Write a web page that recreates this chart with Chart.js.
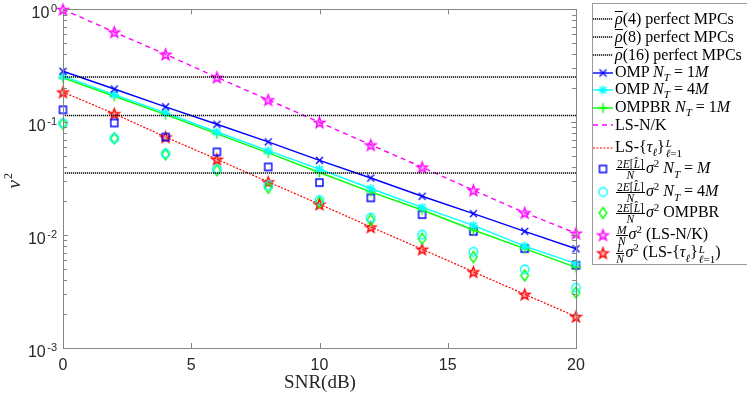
<!DOCTYPE html>
<html>
<head>
<meta charset="utf-8">
<script src="https://cdn.jsdelivr.net/npm/chart.js@4/dist/chart.umd.min.js"></script>
<style>
  html, body { margin: 0; padding: 0; background: #fff; overflow: hidden; }
  #wrap { position: relative; width: 747px; height: 394px; }
  #chart { position: absolute; left: 0; top: 0; }
  #legend {
    position: absolute; left: 592px; top: 3px; width: 170px; height: 260px;
    border: 1px solid #9a9a9a; background: #fff;
    font-family: "Liberation Serif", "DejaVu Serif", serif; font-size: 16px; color: #000;
  }
  .row { position: absolute; left: 0; display: flex; align-items: center; white-space: nowrap; }
  .row canvas { display: block; margin-right: 1px; }
  .bar { display: inline-block; border-top: 1px solid #000; line-height: 11px; padding-top: 1px; }
  .frac { display: inline-flex; flex-direction: column; align-items: center; font-size: 11.5px;
          line-height: 10.5px; vertical-align: middle; margin: 0 1px; }
  .frac .num { border-bottom: 1px solid #000; padding: 0 1px; }
  .ss { display: inline-flex; flex-direction: column; font-size: 11px; line-height: 10px;
        vertical-align: middle; margin-left: 1px; }
  sub { font-size: 11px; }
  sup { font-size: 11px; }
</style>
</head>
<body>
<div id="wrap">
  <canvas id="chart" width="747" height="394"></canvas>
  <div id="legend"></div>
</div>
<script>
// SNR (dB) on the x axis
const snr = [0, 2, 4, 6, 8, 10, 12, 14, 16, 18, 20];

// horizontal reference levels rho(4), rho(8), rho(16)
const rhoLevels = [0.252, 0.115, 0.0356];

const omp1M   = [0.283, 0.197, 0.137, 0.096, 0.067, 0.046, 0.0321, 0.0221, 0.0155, 0.0108, 0.00757];
const omp4M   = [0.256, 0.176, 0.121, 0.082, 0.056, 0.0384, 0.0259, 0.0176, 0.0122, 0.0080, 0.0056];
const ompbr1M = [0.247, 0.170, 0.117, 0.079, 0.0535, 0.0359, 0.0242, 0.0167, 0.0111, 0.0076, 0.00518];
const lsNK    = [1.0, 0.63, 0.40, 0.25, 0.158, 0.100, 0.063, 0.040, 0.025, 0.0158, 0.0104];
const lsTau   = [0.185, 0.119, 0.074, 0.047, 0.0296, 0.0188, 0.0118, 0.0075, 0.00473, 0.00299, 0.0019];
const boundM  = [0.129, 0.0986, 0.074, 0.0546, 0.0402, 0.0292, 0.0214, 0.0152, 0.0108, 0.0076, 0.0054];
const bound4M = [0.098, 0.072, 0.0528, 0.0384, 0.0277, 0.0204, 0.0143, 0.0101, 0.0071, 0.00497, 0.00342];
const boundBR = [0.097, 0.072, 0.052, 0.0376, 0.0263, 0.0196, 0.0136, 0.0093, 0.0064, 0.0044, 0.0031];

// axis ticks
const xTicks = [0, 5, 10, 15, 20];
const yExponents = [-3, -2, -1, 0];

// legend labels (html for math)
const legendLabels = [
  '<i class="bar">ρ</i>(4) perfect MPCs',
  '<i class="bar">ρ</i>(8) perfect MPCs',
  '<i class="bar">ρ</i>(16) perfect MPCs',
  'OMP <i>N</i><sub><i>T</i></sub> = 1<i>M</i>',
  'OMP <i>N</i><sub><i>T</i></sub> = 4<i>M</i>',
  'OMPBR <i>N</i><sub><i>T</i></sub> = 1<i>M</i>',
  'LS-N/K',
  'LS-{<i>τ</i><sub><i>ℓ</i></sub>}<span class="ss"><i>L</i><span><i>ℓ</i>=1</span></span>',
  '<span class="frac"><span class="num">2<i>E</i>[<i>L̂</i>]</span><span><i>N</i></span></span><i>σ</i><sup>2</sup> <i>N</i><sub><i>T</i></sub> = <i>M</i>',
  '<span class="frac"><span class="num">2<i>E</i>[<i>L̂</i>]</span><span><i>N</i></span></span><i>σ</i><sup>2</sup> <i>N</i><sub><i>T</i></sub> = 4<i>M</i>',
  '<span class="frac"><span class="num">2<i>E</i>[<i>L̂</i>]</span><span><i>N</i></span></span><i>σ</i><sup>2</sup> OMPBR',
  '<span class="frac"><span class="num"><i>M</i></span><span><i>N</i></span></span><i>σ</i><sup>2</sup> (LS-N/K)',
  '<span class="frac"><span class="num"><i>L</i></span><span><i>N</i></span></span><i>σ</i><sup>2</sup> (LS-{<i>τ</i><sub><i>ℓ</i></sub>}<span class="ss"><i>L</i><span><i>ℓ</i>=1</span></span>)'
];
const legendY = [19, 37, 55, 73, 90, 108, 125, 148, 169, 192, 213, 235, 253];

// marker images (MATLAB-like shapes)
function makeMarker(shape, color) {
  const s = 17, c = s / 2;
  const cv = document.createElement('canvas');
  cv.width = s; cv.height = s;
  const g = cv.getContext('2d');
  g.strokeStyle = color;
  g.lineWidth = 1.4;
  g.beginPath();
  if (shape === 'x') {
    g.moveTo(c - 3.5, c - 3.5); g.lineTo(c + 3.5, c + 3.5);
    g.moveTo(c + 3.5, c - 3.5); g.lineTo(c - 3.5, c + 3.5);
  } else if (shape === '+') {
    g.moveTo(c - 5, c); g.lineTo(c + 5, c);
    g.moveTo(c, c - 5); g.lineTo(c, c + 5);
  } else if (shape === '*') {
    g.moveTo(c - 4.5, c); g.lineTo(c + 4.5, c);
    g.moveTo(c, c - 4.5); g.lineTo(c, c + 4.5);
    g.moveTo(c - 3.3, c - 3.3); g.lineTo(c + 3.3, c + 3.3);
    g.moveTo(c + 3.3, c - 3.3); g.lineTo(c - 3.3, c + 3.3);
  } else if (shape === 'square') {
    g.rect(c - 3.5, c - 3.5, 7, 7);
  } else if (shape === 'circle') {
    g.arc(c, c, 4.2, 0, Math.PI * 2);
  } else if (shape === 'diamond') {
    g.moveTo(c, c - 5.5); g.lineTo(c + 3.8, c); g.lineTo(c, c + 5.5); g.lineTo(c - 3.8, c); g.closePath();
  } else if (shape === 'pentagram') {
    for (let i = 0; i < 10; i++) {
      const r = i % 2 ? 2.3 : 5.6;
      const a = -Math.PI / 2 + i * Math.PI / 5;
      const px = c + r * Math.cos(a), py = c + 0.5 + r * Math.sin(a);
      if (i === 0) g.moveTo(px, py); else g.lineTo(px, py);
    }
    g.closePath();
    g.fillStyle = color;
    g.globalAlpha = 0.3; g.fill(); g.globalAlpha = 1;
  }
  g.stroke();
  return cv;
}

const pts = (ys) => snr.map((x, i) => ({ x: x, y: ys[i] }));
const hline = (v) => [{ x: 0, y: v }, { x: 20, y: v }];

function lineSet(label, data, color, opts) {
  return Object.assign({
    label: label, data: data, borderColor: color, backgroundColor: color,
    borderWidth: 1.4, pointRadius: 0, fill: false, tension: 0, clip: false
  }, opts || {});
}
function markSet(label, data, shape, color) {
  return {
    label: label, data: data, showLine: false, clip: false,
    pointStyle: makeMarker(shape, color), pointRadius: 8, pointHoverRadius: 8,
    borderColor: color, backgroundColor: color
  };
}

const datasets = [
  lineSet('rho4', hline(rhoLevels[0]), '#000', { borderDash: [1.2, 0.8], borderWidth: 1.5 }),
  lineSet('rho8', hline(rhoLevels[1]), '#000', { borderDash: [1.2, 0.8], borderWidth: 1.5 }),
  lineSet('rho16', hline(rhoLevels[2]), '#000', { borderDash: [1.2, 0.8], borderWidth: 1.5 }),
  lineSet('OMP 1M', pts(omp1M), '#0000ff', { pointStyle: makeMarker('x', '#0000ff'), pointRadius: 8 }),
  lineSet('OMP 4M', pts(omp4M), '#00ffff', { pointStyle: makeMarker('*', '#00ffff'), pointRadius: 8 }),
  lineSet('OMPBR 1M', pts(ompbr1M), '#00ff00', { pointStyle: makeMarker('+', '#00ff00'), pointRadius: 8 }),
  lineSet('LS-N/K', pts(lsNK), '#ff00ff', { borderDash: [5, 4] }),
  lineSet('LS-tau', pts(lsTau), '#ff0000', { borderDash: [2, 1.5], borderWidth: 1.2 }),
  markSet('bound M', pts(boundM), 'square', '#0000ff'),
  markSet('bound 4M', pts(bound4M), 'circle', '#00ffff'),
  markSet('bound OMPBR', pts(boundBR), 'diamond', '#00ff00'),
  markSet('M/N', pts(lsNK), 'pentagram', '#ff00ff'),
  markSet('L/N', pts(lsTau), 'pentagram', '#ff0000')
];

// frame, inward ticks and axis texts, MATLAB style
const axesPlugin = {
  id: 'matlabAxes',
  afterDatasetsDraw(chart) {
    const ctx = chart.ctx;
    const a = chart.chartArea;
    const xs = chart.scales.x, ys = chart.scales.y;
    ctx.save();
    ctx.strokeStyle = '#858585';
    ctx.lineWidth = 1;
    ctx.strokeRect(Math.round(a.left) + 0.5, Math.round(a.top) + 0.5,
      Math.round(a.right - a.left), Math.round(a.bottom - a.top));
    ctx.beginPath();
    xTicks.forEach(v => {
      const px = Math.round(xs.getPixelForValue(v)) + 0.5;
      ctx.moveTo(px, a.bottom); ctx.lineTo(px, a.bottom - 5);
      ctx.moveTo(px, a.top); ctx.lineTo(px, a.top + 5);
    });
    yExponents.forEach(e => {
      const ks = e < 0 ? [1, 2, 3, 4, 5, 6, 7, 8, 9] : [1];
      ks.forEach(k => {
        const py = Math.round(ys.getPixelForValue(k * Math.pow(10, e))) + 0.5;
        const len = k === 1 ? 5 : 4;
        ctx.moveTo(a.left, py); ctx.lineTo(a.left + len, py);
        ctx.moveTo(a.right, py); ctx.lineTo(a.right - len, py);
      });
    });
    ctx.stroke();

    ctx.fillStyle = '#262626';
    ctx.font = '16px "Liberation Sans", Arial, sans-serif';
    ctx.textAlign = 'center';
    ctx.textBaseline = 'alphabetic';
    xTicks.forEach(v => ctx.fillText(String(v), xs.getPixelForValue(v), 370));
    yExponents.forEach(e => {
      const py = ys.getPixelForValue(Math.pow(10, e));
      ctx.font = '11px "Liberation Sans", Arial, sans-serif';
      ctx.textAlign = 'right';
      const ex = String(e);
      ctx.fillText(ex, 57, py + 3);
      const w = ctx.measureText(ex).width;
      ctx.font = '16px "Liberation Sans", Arial, sans-serif';
      ctx.fillText('10', 57 - w - 1.5, py + 8.5);
    });

    ctx.fillStyle = '#262626';
    ctx.textAlign = 'center';
    ctx.font = '19px "Liberation Serif", "DejaVu Serif", serif';
    ctx.fillText('SNR(dB)', 320, 388);
    ctx.translate(20, 180);
    ctx.rotate(-Math.PI / 2);
    ctx.font = 'italic 19px "Liberation Serif", "DejaVu Serif", serif';
    ctx.textAlign = 'right';
    ctx.fillText('ν', 0, 0);
    ctx.font = '12px "Liberation Serif", "DejaVu Serif", serif';
    ctx.textAlign = 'left';
    ctx.fillText('2', 1, -8);
    ctx.restore();
  }
};

new Chart(document.getElementById('chart'), {
  type: 'line',
  data: { datasets: datasets },
  options: {
    responsive: false,
    animation: false,
    events: [],
    layout: { padding: { left: 63, top: 9, right: 171, bottom: 46 } },
    scales: {
      x: { type: 'linear', min: 0, max: 20, display: false },
      y: { type: 'logarithmic', min: 0.001, max: 1, display: false }
    },
    plugins: { legend: { display: false }, tooltip: { enabled: false } }
  },
  plugins: [axesPlugin]
});

// html legend, samples drawn with the same styles as the datasets
const legend = document.getElementById('legend');
datasets.forEach((ds, i) => {
  const row = document.createElement('div');
  row.className = 'row';
  const h = 22;
  row.style.top = (legendY[i] - 4 - h / 2) + 'px';
  row.style.height = h + 'px';
  const cv = document.createElement('canvas');
  cv.width = 21; cv.height = h;
  const g = cv.getContext('2d');
  if (ds.showLine !== false) {
    g.strokeStyle = ds.borderColor;
    g.lineWidth = ds.borderWidth;
    g.setLineDash(ds.borderDash || []);
    g.beginPath(); g.moveTo(0, h / 2); g.lineTo(20, h / 2); g.stroke();
    g.setLineDash([]);
  }
  if (ds.pointStyle && typeof ds.pointStyle === 'object') {
    g.drawImage(ds.pointStyle, 10 - 8.5, h / 2 - 8.5);
  }
  row.appendChild(cv);
  const span = document.createElement('span');
  span.innerHTML = legendLabels[i];
  row.appendChild(span);
  legend.appendChild(row);
});
</script>
</body>
</html>
